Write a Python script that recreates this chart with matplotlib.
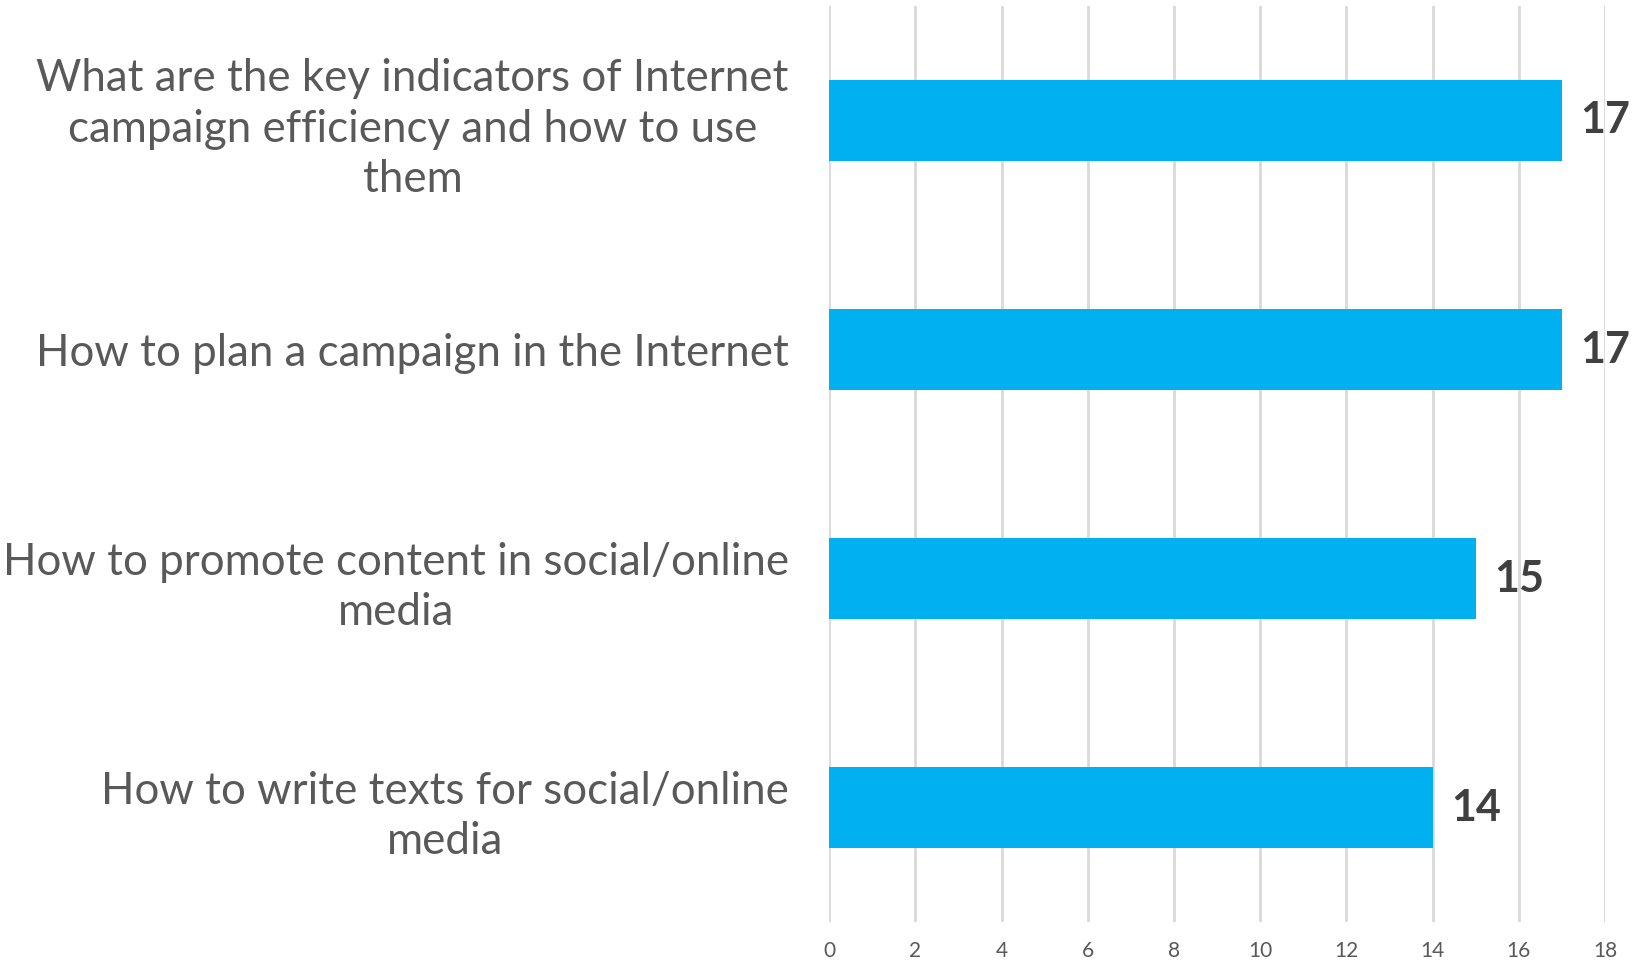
import matplotlib.pyplot as plt
from matplotlib import font_manager

topics = [
    "What are the key indicators of Internet\ncampaign efficiency and how to use\nthem",
    "How to plan a campaign in the Internet",
    "How to promote content in social/online\nmedia",
    "How to write texts for social/online\nmedia",
]
answers = [17, 17, 15, 14]
xticks = list(range(0, 19, 2))

names = {f.name for f in font_manager.fontManager.ttflist}
label_font = "Liberation Sans Narrow" if "Liberation Sans Narrow" in names else "Lato"

fig = plt.figure(figsize=(16.33, 9.66), dpi=100)
ax = fig.add_axes([0.5077, 0.0455, 0.4752, 0.9483])

# size the category font so the one-line label is ~750 px wide, like the original
probe = fig.text(0, 0, topics[1], fontsize=30, family=label_font)
w = probe.get_window_extent(fig.canvas.get_renderer()).width
probe.remove()
cat_size = 30 * 750 / w

pos = list(range(len(topics)))
ax.barh(pos, answers, height=0.35, color="#00b0f0", zorder=3)

for y, v in zip(pos, answers):
    ax.text(v + 0.42, y, str(v), va="center", ha="left", fontsize=31,
            fontweight="bold", color="#404040", family=label_font)

ax.set_xlim(0, 18)
ax.set_ylim(3.5, -0.5)
ax.set_xticks(xticks)
ax.set_yticks(pos)
ax.set_yticklabels(topics, fontsize=cat_size, color="#595959", family=label_font,
                   linespacing=1.28)
for lbl in ax.get_yticklabels():
    lbl.set_multialignment("center")
ax.set_xticklabels([str(t) for t in xticks], family=label_font)
ax.tick_params(axis="y", length=0, pad=29)
ax.tick_params(axis="x", length=0, pad=14, labelsize=15, labelcolor="#595959")

ax.grid(axis="x", color="#d9d9d9", linewidth=2, zorder=0)
for s in ax.spines.values():
    s.set_visible(False)

fig.savefig("out.png", dpi=100)
